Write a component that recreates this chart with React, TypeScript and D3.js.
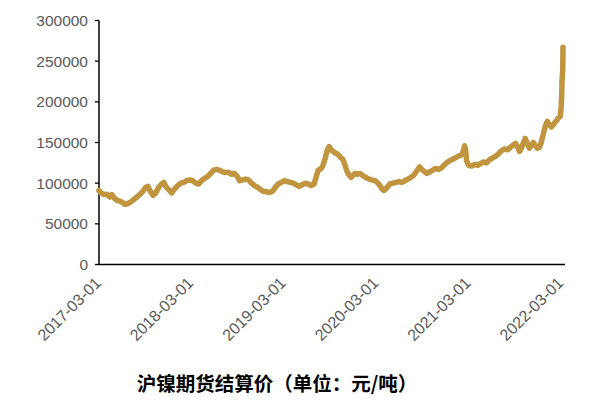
import React from "react";
import * as d3 from "d3";

const dates: string[] = [
  "2017-03-01","2017-03-09","2017-03-21","2017-04-01","2017-04-13","2017-04-21","2017-04-29","2017-05-11","2017-05-23","2017-06-03",
  "2017-06-11","2017-06-23","2017-07-05","2017-07-17","2017-07-29","2017-08-09","2017-08-21","2017-09-02","2017-09-10","2017-09-18",
  "2017-09-30","2017-10-11","2017-10-23","2017-11-04","2017-11-12","2017-11-20","2017-12-01","2017-12-13","2017-12-25","2018-01-06",
  "2018-01-18","2018-01-30","2018-02-10","2018-02-22","2018-03-06","2018-03-18","2018-03-30","2018-04-10","2018-04-22","2018-05-04",
  "2018-05-16","2018-05-28","2018-06-08","2018-06-20","2018-07-02","2018-07-14","2018-07-26","2018-08-06","2018-08-18","2018-08-30",
  "2018-09-07","2018-09-19","2018-10-01","2018-10-12","2018-10-24","2018-11-05","2018-11-17","2018-11-29","2018-12-10","2018-12-22",
  "2019-01-03","2019-01-15","2019-01-27","2019-02-07","2019-02-19","2019-03-03","2019-03-15","2019-03-27","2019-04-07","2019-04-19",
  "2019-05-01","2019-05-13","2019-05-25","2019-06-05","2019-06-17","2019-06-29","2019-07-07","2019-07-15","2019-07-27","2019-08-03",
  "2019-08-11","2019-08-19","2019-08-27","2019-09-04","2019-09-12","2019-09-20","2019-09-28","2019-10-05","2019-10-13","2019-10-21",
  "2019-10-29","2019-11-06","2019-11-14","2019-11-22","2019-11-30","2019-12-07","2019-12-15","2019-12-27","2020-01-08","2020-01-20",
  "2020-02-01","2020-02-12","2020-02-24","2020-03-07","2020-03-15","2020-03-23","2020-03-31","2020-04-07","2020-04-15","2020-04-23",
  "2020-05-05","2020-05-17","2020-05-29","2020-06-09","2020-06-21","2020-07-03","2020-07-15","2020-07-27","2020-08-07","2020-08-19",
  "2020-08-27","2020-09-08","2020-09-16","2020-09-28","2020-10-09","2020-10-21","2020-11-02","2020-11-14","2020-11-26","2020-12-07",
  "2020-12-19","2020-12-31","2021-01-12","2021-01-24","2021-02-01","2021-02-08","2021-02-12","2021-02-16","2021-02-20","2021-02-28",
  "2021-03-12","2021-03-24","2021-04-05","2021-04-16","2021-04-28","2021-05-10","2021-05-22","2021-06-03","2021-06-14","2021-06-26",
  "2021-07-08","2021-07-20","2021-08-01","2021-08-12","2021-08-24","2021-09-01","2021-09-09","2021-09-17","2021-09-25","2021-10-03",
  "2021-10-10","2021-10-18","2021-10-26","2021-11-03","2021-11-11","2021-11-19","2021-11-27","2021-12-05","2021-12-12","2021-12-20",
  "2021-12-28","2022-01-05","2022-01-13","2022-01-21","2022-01-29","2022-02-05","2022-02-13","2022-02-17","2022-02-25","2022-03-01",
  "2022-03-03","2022-03-04","2022-03-07","2022-03-08"
];

const settlePrice: number[] = [
  91000,88000,86000,86500,83000,86000,82000,79000,78000,76000,
  74000,75000,77000,80000,83000,86000,90000,95000,96000,91000,
  85000,88000,95000,99000,101000,96000,92000,88000,93000,97000,
  100000,101000,103000,104000,103000,100000,99000,103000,106000,108000,
  112000,116000,117000,116000,114000,113000,113500,111000,112000,108000,
  103000,104000,105000,104000,100000,97000,95000,92000,90000,89500,
  88500,90000,95000,99000,101000,103000,102000,101000,100000,98000,
  96000,98000,100000,99000,97000,99000,108000,116000,118000,122000,
  130000,140000,145000,141000,139000,137000,136000,134000,131000,129000,
  122000,114000,110000,107000,110000,112000,111000,112000,109000,107000,
  105000,104000,103000,100000,97000,93000,91000,93000,96000,99000,
  100000,101000,102000,101000,103000,105000,107000,110000,115000,120000,
  117000,114000,112000,114000,116000,118000,117000,119000,123000,126000,
  128000,130000,132000,134000,135000,140000,146000,142000,128000,122000,
  121000,123000,122000,124000,126000,125000,129000,131000,133000,136000,
  140000,142000,141000,144000,147000,149000,145000,139000,143000,150000,
  155000,149000,143000,147000,150000,146000,143000,144000,150000,160000,
  170000,176000,172000,169000,172000,175000,178000,180000,182000,195000,
  210000,225000,240000,267000
];

const yTicks: number[] = [0, 50000, 100000, 150000, 200000, 250000, 300000];
const xTickLabels: string[] = ["2017-03-01","2018-03-01","2019-03-01","2020-03-01","2021-03-01","2022-03-01"];
const title = "沪镍期货结算价（单位：元/吨）";

const parse = d3.timeParse("%Y-%m-%d");

export default function App() {
  const W = 599, H = 408;
  const x = d3.scaleTime()
    .domain([parse("2017-03-01") as Date, parse("2022-03-08") as Date])
    .range([99, 563]);
  const y = d3.scaleLinear().domain([0, 300000]).range([264.5, 20.5]);
  const pts: [Date, number][] = dates.map((d, i) => [parse(d) as Date, settlePrice[i]]);
  const line = d3.line<[Date, number]>().x(d => x(d[0])).y(d => y(d[1]));
  const font = "'Liberation Sans', Arial, sans-serif";
  return (
    <svg width={W} height={H} style={{ position: "absolute", left: 0, top: 0, background: "#fff" }}>
      <rect x={0} y={0} width={W} height={H} fill="#fff" />
      {yTicks.map(t => (
        <g key={t}>
          <line x1={95} x2={99} y1={y(t)} y2={y(t)} stroke="#000" strokeWidth={1.3} />
          <text x={88} y={y(t)} dy="0.36em" textAnchor="end" fontFamily={font} fontSize={15.5} fill="#595959">{t}</text>
        </g>
      ))}
      <line x1={99} x2={99} y1={y(300000)} y2={y(0)} stroke="#000" strokeWidth={1.5} />
      <line x1={99} x2={565} y1={y(0)} y2={y(0)} stroke="#000" strokeWidth={1.5} />
      {xTickLabels.map(l => {
        const px = x(parse(l) as Date);
        return (
          <text key={l} transform={`translate(${px + 3},${284}) rotate(-45)`} textAnchor="end"
            fontFamily={font} fontSize={16} fill="#595959">{l}</text>
        );
      })}
      <path d={line(pts) || ""} fill="none" stroke="#C1943F" strokeWidth={5.5} strokeLinejoin="round" strokeLinecap="round" />
      <text x={277} y={391} textAnchor="middle" fontFamily="'Noto Sans CJK SC', sans-serif" fontWeight="bold" fontSize={19.5} fill="#000">{title}</text>
    </svg>
  );
}
